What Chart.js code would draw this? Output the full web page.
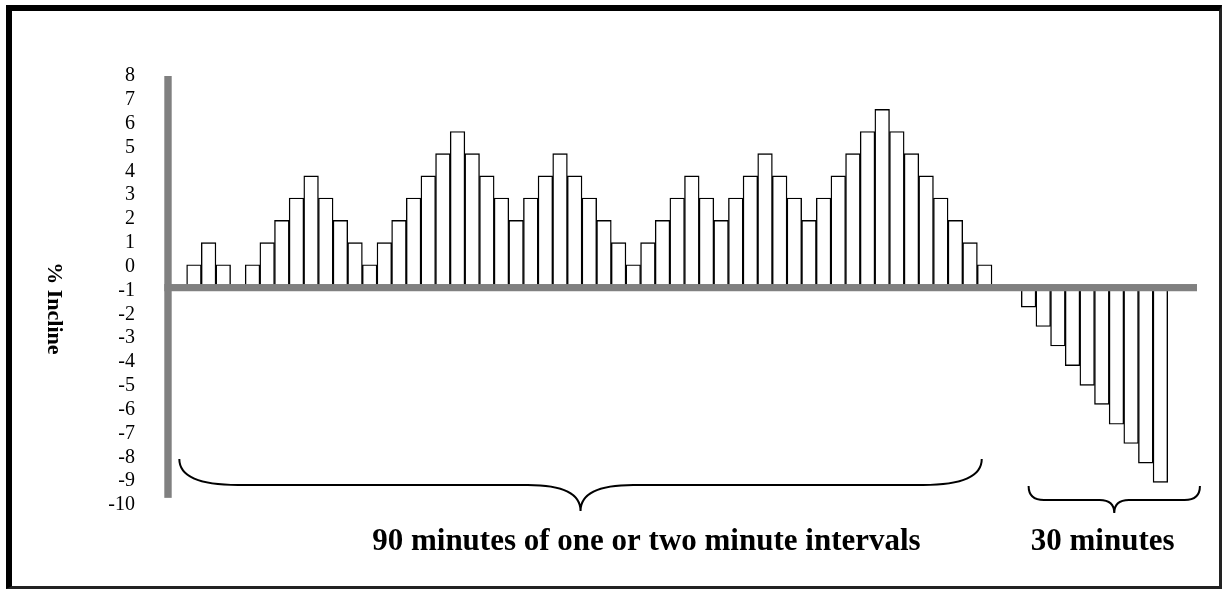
<!DOCTYPE html>
<html>
<head>
<meta charset="utf-8">
<title>% Incline</title>
<script src="https://cdn.jsdelivr.net/npm/chart.js@4.4.1/dist/chart.umd.min.js"></script>
<style>
    html, body { margin: 0; padding: 0; background: #fff; }
    #wrap { position: relative; width: 1222px; height: 592px; }
    #frame {
        position: absolute; left: 6px; top: 5px; width: 1216px; height: 584px;
        box-sizing: border-box; pointer-events: none;
        border-left: 6px solid #000; border-top: 6px solid #000;
        border-right: 3px solid #222; border-bottom: 3px solid #222;
    }
</style>
</head>
<body>
<div id="wrap">
    <canvas id="inclineChart" width="1222" height="592"></canvas>
    <div id="frame"></div>
</div>
<script>
// incline of each interval (null = empty slot)
const ninetyMinutes = [0.08, 1.01, 0.08, null, 0.08, 1.01, 1.94, 2.88, 3.81, 2.88, 1.94, 1.01, 0.08,
    1.01, 1.94, 2.88, 3.81, 4.74, 5.67, 4.74, 3.81, 2.88, 1.94, 2.88, 3.81, 4.74, 3.81, 2.88, 1.94,
    1.01, 0.08, 1.01, 1.94, 2.88, 3.81, 2.88, 1.94, 2.88, 3.81, 4.74, 3.81, 2.88, 1.94, 2.88, 3.81,
    4.74, 5.67, 6.6, 5.67, 4.74, 3.81, 2.88, 1.94, 1.01, 0.08];
const thirtyMinutes = [-1.7, -2.51, -3.33, -4.15, -4.98, -5.78, -6.61, -7.42, -8.24, -9.05];

// y axis tick labels
const inclineTicks = [8, 7, 6, 5, 4, 3, 2, 1, 0, -1, -2, -3, -4, -5, -6, -7, -8, -9, -10];

const axisTitle = '% Incline';
const ninetyLabel = '90 minutes of one or two minute intervals';
const thirtyLabel = '30 minutes';

// bars hang from this level (where the grey axis is)
const AXIS_BASE = -0.88;

// one empty slot before, two between the blocks, two after
const slots = [null, ...ninetyMinutes, null, null, ...thirtyMinutes, null, null];
const slotLabels = slots.map((_, i) => String(i));

// curly brace helper
function drawBrace(ctx, x0, x1, yEnd, yLine, yTip, r, r2) {
    const xm = (x0 + x1) / 2;
    ctx.beginPath();
    ctx.moveTo(x0, yEnd);
    ctx.quadraticCurveTo(x0, yLine, x0 + r, yLine);
    ctx.lineTo(xm - r2, yLine);
    ctx.quadraticCurveTo(xm, yLine, xm, yTip);
    ctx.quadraticCurveTo(xm, yLine, xm + r2, yLine);
    ctx.lineTo(x1 - r, yLine);
    ctx.quadraticCurveTo(x1, yLine, x1, yEnd);
    ctx.stroke();
}

const axesPlugin = {
    id: 'greyAxes',
    afterDatasetsDraw(chart) {
        const { ctx, chartArea, scales: { y } } = chart;
        const axisY = y.getPixelForValue(AXIS_BASE);
        ctx.save();
        ctx.fillStyle = '#808080';
        // vertical axis
        const top = y.getPixelForValue(8);
        ctx.fillRect(chartArea.left - 7.7, top, 7.4, y.getPixelForValue(-9.7) - top);
        // horizontal axis
        ctx.fillRect(chartArea.left - 7.7, axisY - 3.6, chartArea.right - chartArea.left + 7.7, 7.2);
        ctx.restore();
    }
};

const notesPlugin = {
    id: 'notes',
    afterDraw(chart) {
        const { ctx, chartArea, scales: { x, y } } = chart;
        const step = x.getPixelForValue(1) - x.getPixelForValue(0);
        ctx.save();

        // rotated y title
        ctx.fillStyle = '#000';
        ctx.font = 'bold 22px "Liberation Serif", "Times New Roman", serif';
        ctx.textAlign = 'center';
        ctx.textBaseline = 'middle';
        ctx.translate(chartArea.left - 118, y.getPixelForValue(-1.75));
        ctx.rotate(Math.PI / 2);
        ctx.fillText(axisTitle, 0, 0);
        ctx.setTransform(1, 0, 0, 1, 0, 0);

        // braces
        ctx.strokeStyle = '#000';
        ctx.lineWidth = 2;
        drawBrace(ctx, x.getPixelForValue(0), x.getPixelForValue(54.8),
            y.getPixelForValue(-8.07), y.getPixelForValue(-9.16), y.getPixelForValue(-10.25),
            step * 4, step * 3.6);
        drawBrace(ctx, x.getPixelForValue(58), x.getPixelForValue(69.7),
            y.getPixelForValue(-9.2), y.getPixelForValue(-9.79), y.getPixelForValue(-10.34),
            step * 1.05, step * 1.0);

        // block labels
        ctx.font = 'bold 31px "Liberation Serif", "Times New Roman", serif';
        ctx.textAlign = 'center';
        ctx.textBaseline = 'alphabetic';
        ctx.fillText(ninetyLabel, x.getPixelForValue(31.9), y.getPixelForValue(-11.89));
        ctx.fillText(thirtyLabel, x.getPixelForValue(63.06), y.getPixelForValue(-11.89));
        ctx.restore();
    }
};

const ctx = document.getElementById('inclineChart').getContext('2d');
const inclineChart = new Chart(ctx, {
    type: 'bar',
    data: {
        labels: slotLabels,
        datasets: [{
            label: 'Incline',
            data: slots,
            base: AXIS_BASE,
            backgroundColor: '#ffffff',
            borderColor: '#000000',
            borderWidth: 1.4,
            categoryPercentage: 1,
            barPercentage: 1
        }]
    },
    options: {
        responsive: false,
        animation: false,
        layout: {
            padding: { left: 72, top: 76, right: 25, bottom: 87 }
        },
        plugins: {
            legend: { display: false },
            tooltip: { enabled: false }
        },
        scales: {
            x: {
                display: false
            },
            y: {
                min: -10,
                max: 8,
                afterFit: function (scale) {
                    scale.width = 100;
                },
                afterBuildTicks: function (scale) {
                    scale.ticks = inclineTicks.map(v => ({ value: v }));
                },
                grid: { display: false, drawTicks: false },
                border: { display: false },
                ticks: {
                    autoSkip: false,
                    padding: 37,
                    color: '#000',
                    font: { family: '"Liberation Serif", "Times New Roman", serif', size: 20 }
                }
            }
        }
    },
    plugins: [axesPlugin, notesPlugin]
});
</script>
</body>
</html>
